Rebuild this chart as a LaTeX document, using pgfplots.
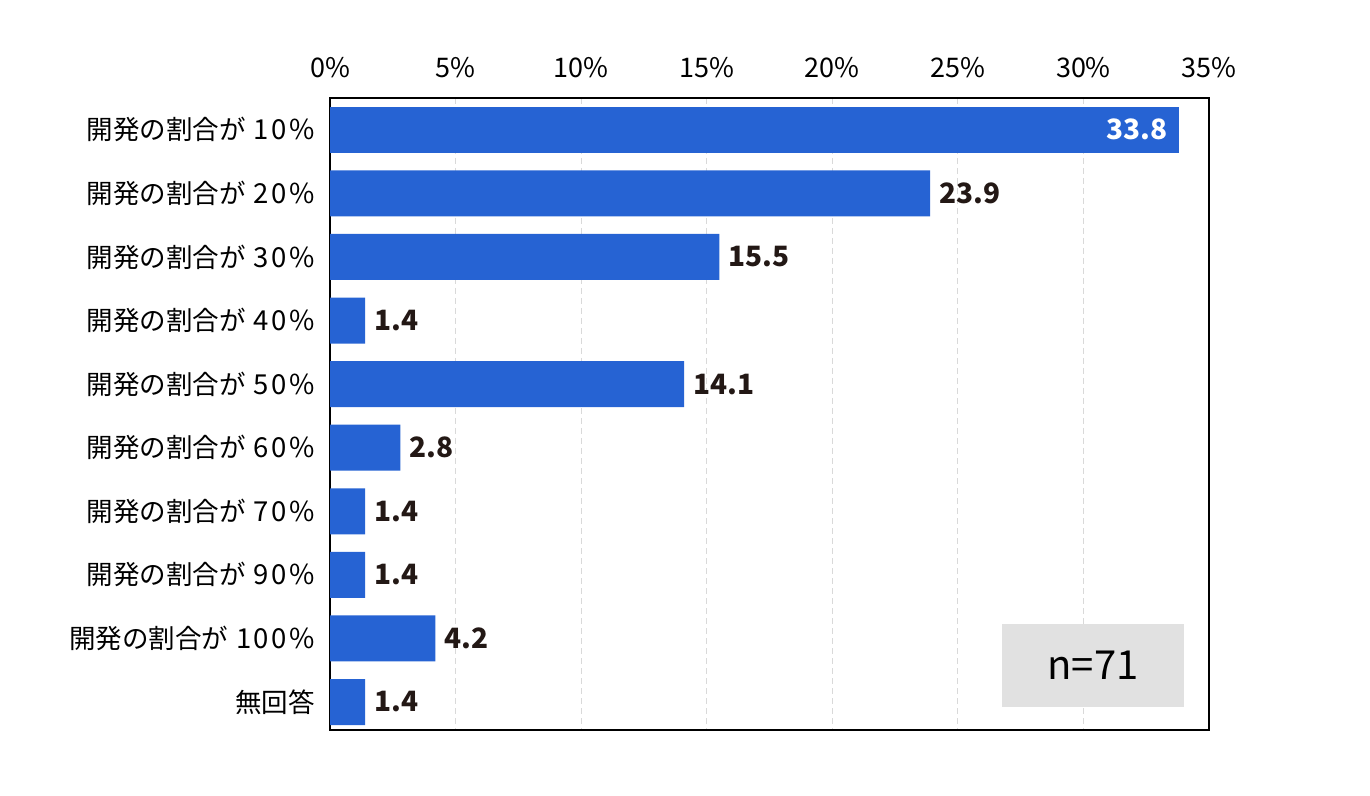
\documentclass[border=0pt]{standalone}
\usepackage{fontspec}
\setmainfont{Noto Sans CJK JP}
\usepackage{pgfplots}
\pgfplotsset{compat=1.18}
\definecolor{barblue}{HTML}{2663D3}
\definecolor{textdark}{HTML}{231815}
\definecolor{gridgray}{HTML}{D9D9D9}
\definecolor{boxgray}{HTML}{E1E1E1}
\newcommand\lab[1]{開発の割合が\hspace{8pt}{\fontsize{27.5}{27.5}\selectfont #1\kern2.5pt\%}}
\begin{document}
\begin{tikzpicture}
\useasboundingbox (0,0) rectangle (1370pt,795pt);
\begin{axis}[
  at={(330pt,65pt)}, anchor=south west,
  scale only axis, width=879pt, height=632pt,
  xbar, bar width=46pt,
  xmin=0, xmax=35, ymin=-0.5, ymax=9.44,
  y dir=reverse,
  xtick={0,5,...,35},
  xticklabel pos=upper,
  xticklabel={\pgfmathprintnumber{\tick}\%},
  xticklabel style={anchor=base, yshift=20pt, inner sep=0pt, font=\fontsize{27}{27}\selectfont, text=black},
  ytick={0,...,9},
  yticklabels={\lab{1\kern2.5pt0},\lab{2\kern2.5pt0},\lab{3\kern2.5pt0},\lab{4\kern2.5pt0},\lab{5\kern2.5pt0},\lab{6\kern2.5pt0},\lab{7\kern2.5pt0},\lab{9\kern2.5pt0},\lab{1\kern2.5pt0\kern2.5pt0},無回答},
  yticklabel style={anchor=east, inner sep=0pt, xshift=-15pt, font=\fontsize{26.5}{26.5}\selectfont, text=black},
  major tick length=0pt,
  /pgf/number format/assume math mode=true,
  xmajorgrids, ymajorgrids=false,
  major grid style={gridgray, line width=1.2pt, dash pattern=on 6pt off 4pt},
  axis line style={black, line width=1.6pt},
  point meta=x,
  nodes near coords={\pgfmathprintnumber[fixed,precision=1,zerofill]{\pgfplotspointmeta}},
]
\addplot[fill=barblue, draw=none, bar shift=0pt,
  nodes near coords style={anchor=east, inner sep=0pt, xshift=-11pt, text=white, font=\bfseries\fontsize{28}{28}\selectfont}]
  coordinates {(33.8,0)};
\addplot[fill=barblue, draw=none, bar shift=0pt,
  nodes near coords style={anchor=west, inner sep=0pt, xshift=9pt, text=textdark, font=\bfseries\fontsize{28}{28}\selectfont}]
  coordinates {(23.9,1) (15.5,2) (1.4,3) (14.1,4) (2.8,5) (1.4,6) (1.4,7) (4.2,8) (1.4,9)};
\fill[boxgray] (axis cs:26.76,7.77) rectangle (axis cs:34.0,9.08);
\node[font=\fontsize{40}{40}\selectfont, text=black] at (axis cs:30.38,8.425) {n=71};
\end{axis}
\end{tikzpicture}
\end{document}
